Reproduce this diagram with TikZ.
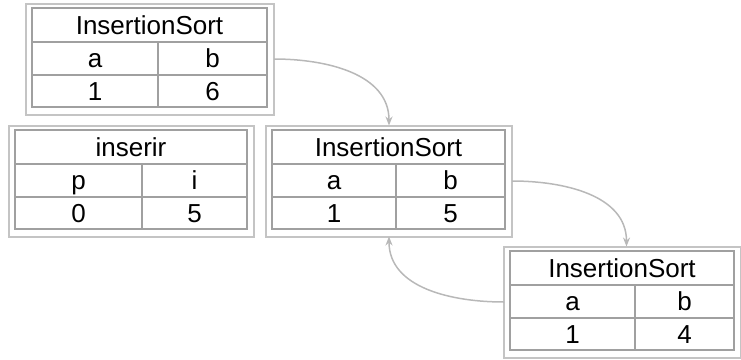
\documentclass[tikz,border=0pt]{standalone}
\usepackage{fontspec}
\setmainfont{Liberation Sans}
\usetikzlibrary{arrows.meta}
\definecolor{outergray}{HTML}{C4C4C4}
\definecolor{innergray}{HTML}{A0A0A0}
\definecolor{arrowgray}{HTML}{B8B8B8}
\tikzset{
  outerbox/.style={draw=outergray, line width=2pt, inner sep=0pt, outer sep=0pt, rectangle},
  innerline/.style={draw=innergray, line width=2pt},
  cell/.style={inner sep=0pt, anchor=base, font=\fontsize{26}{30}\selectfont, text=black},
  link/.style={draw=arrowgray, line width=1.5pt, -{Stealth[length=9pt,width=7pt]}},
}
% \tbl{name}{x1}{y1}{x2}{y2}{column divider x}
\newcommand\tbl[6]{%
  \node[outerbox, anchor=north west, minimum width={(#4-#2+13)*1pt}, minimum height={(#5-#3+12)*1pt}] (#1) at (#2-6,#3-4.5) {};
  \draw[innerline] (#2,#3) rectangle (#4,#5);
  \draw[innerline] (#2,#3+33.5) -- (#4,#3+33.5);
  \draw[innerline] (#2,#3+67) -- (#4,#3+67);
  \draw[innerline] (#6,#3+33.5) -- (#6,#5);
}
% \cells{name}{x1}{y1}{x2}{col}{title}{h1}{h2}{v1}{v2} -> split into two commands
\newcommand\ttl[5]{%
  \node[cell] (#1t) at ({(#2+#4)/2},#3+26) {#5};
}
\newcommand\rowcells[9]{%
  \node[cell] (#1a) at ({(#2+#4)/2},#3+59.5) {#6};
  \node[cell] (#1b) at ({(#4+#5)/2},#3+59.5) {#7};
  \node[cell] (#1c) at ({(#2+#4)/2},#3+92.5) {#8};
  \node[cell] (#1d) at ({(#4+#5)/2},#3+92.5) {#9};
}
\begin{document}
\begin{tikzpicture}[x=1pt,y=-1pt]
\useasboundingbox (0,0) rectangle (741,359);
% box A
\tbl{A}{32}{8}{267}{107}{158}
\ttl{A}{32}{8}{267}{InsertionSort}
\rowcells{A}{32}{8}{158}{267}{a}{b}{1}{6}
% box B
\tbl{B}{15}{130}{247}{229}{142}
\ttl{B}{15}{130}{247}{inserir}
\rowcells{B}{15}{130}{142}{247}{p}{i}{0}{5}
% box C
\tbl{C}{272}{130}{505}{229}{396}
\ttl{C}{272}{130}{505}{InsertionSort}
\rowcells{C}{272}{130}{396}{505}{a}{b}{1}{5}
% box D
\tbl{D}{510}{251}{734}{350}{635}
\ttl{D}{510}{251}{734}{InsertionSort}
\rowcells{D}{510}{251}{635}{734}{a}{b}{1}{4}
% connectors
\draw[link] (A.east) to[out=0,in=90] (C.north);
\draw[link] (C.east) to[out=0,in=90] ([xshift=4pt]D.north);
\draw[link] (D.west) to[out=180,in=-90] (C.south);
\end{tikzpicture}
\end{document}
